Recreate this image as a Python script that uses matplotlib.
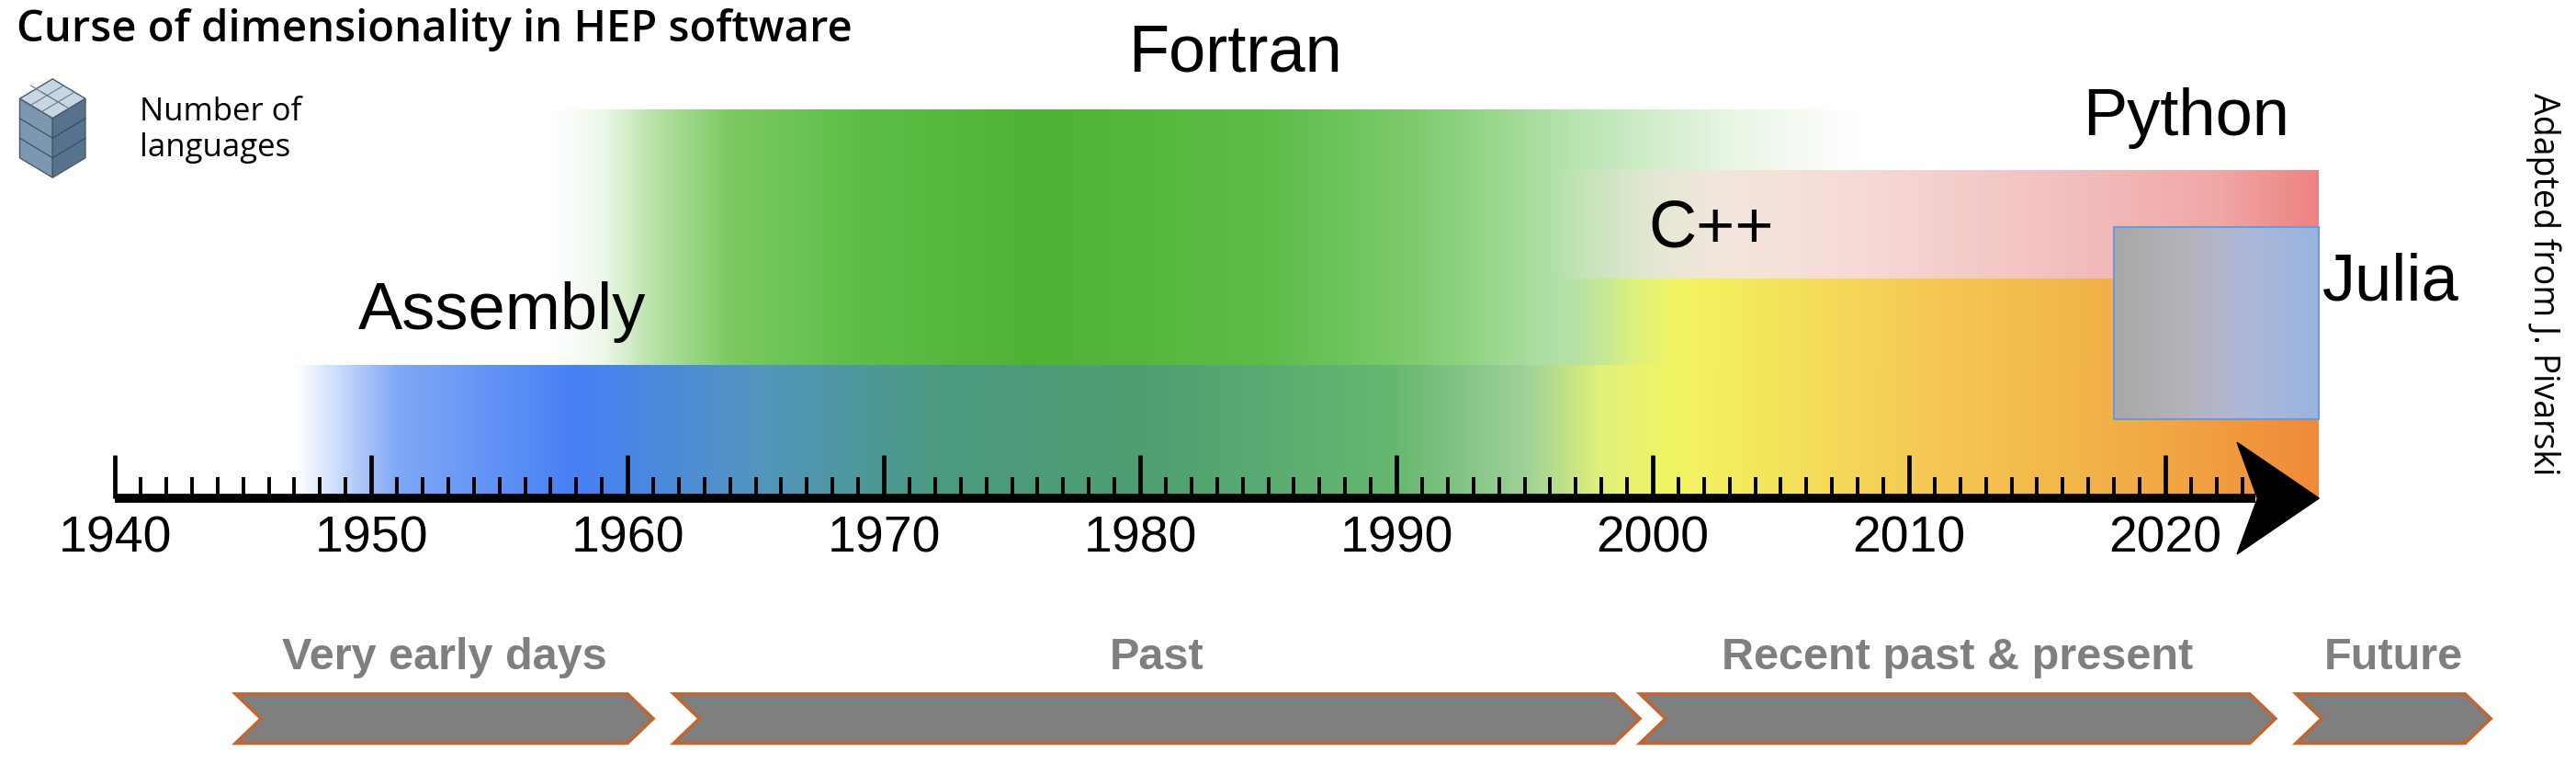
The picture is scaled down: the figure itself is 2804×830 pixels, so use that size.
import numpy as np
import matplotlib
matplotlib.use("Agg")
import matplotlib.pyplot as plt
from matplotlib.colors import to_rgb
from matplotlib.patches import Polygon, Rectangle

# ---- data ----
years_major = [1940, 1950, 1960, 1970, 1980, 1990, 2000, 2010, 2020]
year_start, year_end = 1940, 2023
languages = ["Assembly", "Fortran", "C++", "Python", "Julia"]
lang_start = [1947, 1957, 1996, 1996, 2018]
lang_end = [2026, 2008, 2026, 2026, 2026]
phases = ["Very early days", "Past", "Recent past & present", "Future"]
phase_start = [1944.7, 1961.8, 1999.5, 2025.1]
phase_end = [1961.0, 1999.5, 2024.3, 2032.7]

X0, X1 = 1940 - 70 / 15.6, 1940 + 1498 / 15.6

fig = plt.figure(figsize=(28.04, 8.30), dpi=100)
ax = fig.add_axes([0, 0, 1, 1])
ax.set_xlim(X0, X1)
ax.set_ylim(464, 0)
ax.axis("off")
plt.rcParams['font.family'] = ['Liberation Sans', 'DejaVu Sans']


def grad(x0, x1, y0, y1, stops, z=1):
    xs = np.linspace(x0, x1, 600)
    sx = [s[0] for s in stops]
    cols = np.array([list(to_rgb(s[1])) + [s[2] if len(s) > 2 else 1.0] for s in stops])
    img = np.stack([np.interp(xs, sx, cols[:, k]) for k in range(4)], axis=-1)[None, :, :]
    ax.imshow(img, extent=(x0, x1, y1, y0), aspect="auto", zorder=z, interpolation="bilinear")


# Fortran
grad(lang_start[1], lang_end[1], 67, 222, [
    (1957, "#ffffff"), (1959, "#eef8ea"), (1961, "#b8e2a8"), (1964, "#7cca60"),
    (1969, "#5cbe48"), (1976, "#4db334"), (1985, "#5cbd48"), (1991, "#80cc70"),
    (1997, "#b8e4b0"), (2003, "#e8f5e4"), (2008, "#ffffff")], z=1)
# Python
grad(lang_start[3], lang_end[3], 104, 170, [
    (1996, "#f5e0da", 0.0), (2004, "#f5e4dc", 1.0), (2008, "#f6dad6"),
    (2016, "#f2c0c0"), (2022, "#f0a8a6"), (2026, "#ee8282")], z=2)
# C++ upper part
grad(lang_start[2], lang_end[2], 170, 222, [
    (1996, "#a8d890", 0.0), (1999, "#d8f080", 1.0), (2001, "#f2f562"),
    (2010, "#f6cc55"), (2018, "#f2b048"), (2026, "#f08a38")], z=2)
# Assembly + C++ lower band
grad(lang_start[0], lang_end[2], 222, 303, [
    (1947, "#ffffff"), (1949, "#c0d4fa"), (1951, "#80a8f6"), (1958, "#4680f5"),
    (1965, "#5296c0"), (1972, "#4a9a80"), (1980, "#4e9e72"), (1990, "#66b870"),
    (1995, "#9ed098"), (1998, "#e0f07a"), (2001, "#f2f562"), (2010, "#f6cc55"),
    (2018, "#f2b048"), (2026, "#f08a38")], z=2)
# Julia
grad(lang_start[4], lang_end[4], 138, 255, [
    (2018, "#a8a8a8"), (2021, "#b4b4bc"), (2023, "#b0b8d8"), (2026, "#98b4e0")], z=3)
ax.add_patch(Rectangle((lang_start[4], 138), lang_end[4] - lang_start[4], 117,
                       fill=False, ec="#6c9ad8", lw=1.5, zorder=3.5))

# language labels
lab_pos = {"Assembly": (1955.1, 190), "Fortran": (1983.7, 33), "C++": (2002.3, 140),
           "Python": (2020.8, 72), "Julia": (2028.8, 172)}
for name in languages:
    x, y = lab_pos[name]
    ax.text(x, y, name, fontsize=52, ha="center", va="center", zorder=5)

# axis ticks
for yr in range(year_start, year_end + 1):
    major = yr % 10 == 0
    ax.plot([yr, yr], [303, 277 if major else 290], color="black",
            lw=3.4 if major else 2.8, zorder=4, solid_capstyle="butt")
ax.plot([1940, 2023.5], [303, 303], color="black", lw=7, zorder=4, solid_capstyle="butt")
ax.add_patch(Polygon([(2022.8, 269), (2026.0, 303), (2022.8, 337), (2023.6, 303)],
                     closed=True, color="black", zorder=4))
for yr in years_major:
    ax.text(yr, 328, str(yr), fontsize=40, ha="center", va="center", zorder=5)

# phases
for name, s, e in zip(phases, phase_start, phase_end):
    ax.text((s + e) / 2, 400, name, fontsize=35,
            fontweight="bold", color="#7f7f7f", ha="center", va="center")
    notch = 1.0
    ax.add_patch(Polygon([(s, 422), (e - notch, 422), (e, 437), (e - notch, 452),
                          (s, 452), (s + notch, 437)], closed=True,
                         fc="#7f7f7f", ec="#c5642c", lw=2.5, zorder=3))

# title and legend
ax.text(X0 + 10 / 15.6, 18, "Curse of dimensionality in HEP software", fontsize=34,
        family=["Open Sans", "DejaVu Sans"], fontweight="semibold", ha="left", va="center")
ax.text(X0 + 85 / 15.6, 79, "Number of\nlanguages", fontsize=25,
        family=["Open Sans", "DejaVu Sans"], ha="left", va="center", linespacing=1.2)
ax.text(X0 + 1548 / 15.6, 173, "Adapted from J. Pivarski", fontsize=27, rotation=270,
        family=["Open Sans", "DejaVu Sans"], ha="center", va="center")

# cube icon
def px(x):
    return X0 + x / 15.6
cx, top, w, hh = 32, 48, 20, 12
T = [(px(cx), top), (px(cx + w), top + hh), (px(cx), top + 2 * hh), (px(cx - w), top + hh)]
L = [(px(cx - w), top + hh), (px(cx), top + 2 * hh), (px(cx), top + 2 * hh + 36), (px(cx - w), top + hh + 36)]
R = [(px(cx), top + 2 * hh), (px(cx + w), top + hh), (px(cx + w), top + hh + 36), (px(cx), top + 2 * hh + 36)]
ax.add_patch(Polygon(T, fc="#c8d6e2", ec="#4a5a6a", lw=1, zorder=5))
ax.add_patch(Polygon(L, fc="#7c98b0", ec="#4a5a6a", lw=1, zorder=5))
ax.add_patch(Polygon(R, fc="#56728c", ec="#4a5a6a", lw=1, zorder=5))
for k in (1, 2):
    f = k / 3
    ax.plot([px(cx - w), px(cx)], [top + hh + 36 * f, top + 2 * hh + 36 * f], color="#3a4a5a", lw=0.8, zorder=6)
    ax.plot([px(cx), px(cx + w)], [top + 2 * hh + 36 * f, top + hh + 36 * f], color="#3a4a5a", lw=0.8, zorder=6)
    ax.plot([px(cx - w * (1 - f)), px(cx + w * f)], [top + hh * (1 + f), top + hh * f], color="#6a7a8a", lw=0.8, zorder=6)
    ax.plot([px(cx - w * f), px(cx + w * (1 - f))], [top + hh * (1 - f), top + hh * (2 - f)], color="#6a7a8a", lw=0.8, zorder=6)

fig.savefig("out.png", dpi=100)
